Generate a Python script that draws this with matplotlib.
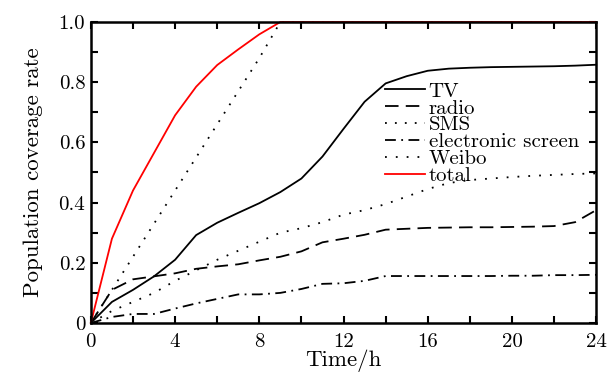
import matplotlib
matplotlib.use("Agg")
import matplotlib.pyplot as plt
from matplotlib.ticker import FixedLocator, FuncFormatter

plt.rcParams['font.family'] = ['cmr10', 'DejaVu Serif']
plt.rcParams['axes.formatter.use_mathtext'] = True
plt.rcParams['mathtext.fontset'] = 'cm'

hours = list(range(25))
tv = [0, 0.07, 0.11, 0.155, 0.21, 0.292, 0.333, 0.366, 0.398, 0.435, 0.48, 0.553, 0.645,
      0.735, 0.796, 0.82, 0.838, 0.845, 0.848, 0.85, 0.851, 0.852, 0.853, 0.855, 0.858]
radio = [0, 0.11, 0.145, 0.155, 0.165, 0.18, 0.188, 0.195, 0.208, 0.22, 0.238, 0.268, 0.28,
         0.293, 0.31, 0.313, 0.316, 0.317, 0.318, 0.318, 0.319, 0.32, 0.322, 0.335, 0.375]
sms = [0, 0.11, 0.22, 0.33, 0.44, 0.55, 0.66, 0.77, 0.88, 1.0, 1.0, 1.0, 1.0,
       1.0, 1.0, 1.0, 1.0, 1.0, 1.0, 1.0, 1.0, 1.0, 1.0, 1.0, 1.0]
screen = [0, 0.02, 0.03, 0.03, 0.048, 0.065, 0.08, 0.095, 0.095, 0.1, 0.113, 0.13, 0.132,
          0.14, 0.156, 0.156, 0.156, 0.156, 0.156, 0.156, 0.157, 0.157, 0.159, 0.159, 0.16]
weibo = [0, 0.04, 0.07, 0.1, 0.14, 0.175, 0.21, 0.24, 0.27, 0.3, 0.315, 0.335, 0.36,
         0.375, 0.395, 0.42, 0.445, 0.465, 0.475, 0.48, 0.485, 0.489, 0.492, 0.495, 0.497]
total = [0, 0.28, 0.44, 0.565, 0.69, 0.785, 0.857, 0.909, 0.959, 1.0, 1.0, 1.0, 1.0,
         1.0, 1.0, 1.0, 1.0, 1.0, 1.0, 1.0, 1.0, 1.0, 1.0, 1.0, 1.0]

labels = ["TV", "radio", "SMS", "electronic screen", "Weibo", "total"]

fig = plt.figure(figsize=(6.14, 3.76), dpi=100)
ax = fig.add_axes([0.148, 0.141, 0.823, 0.8005])

lw = 1.3
ax.plot(hours, tv, color='black', lw=lw, label=labels[0], clip_on=False)
ax.plot(hours, radio, color='black', lw=lw, dashes=(7.5, 4), label=labels[1], clip_on=False)
ax.plot(hours, sms, color='black', lw=lw, dashes=(1, 4.5), label=labels[2], clip_on=False)
ax.plot(hours, screen, color='black', lw=lw, dashes=(6, 3, 1, 3), label=labels[3], clip_on=False)
ax.plot(hours, weibo, color='black', lw=lw, dashes=(1, 5), label=labels[4], clip_on=False)
ax.plot(hours, total, color='red', lw=lw, label=labels[5], clip_on=False)

ax.set_xlim(0, 24)
ax.set_ylim(0, 1.0)
ax.xaxis.set_major_locator(FixedLocator(list(range(0, 25, 2))))
ax.yaxis.set_major_locator(FixedLocator([i / 10 for i in range(11)]))
ax.xaxis.set_major_formatter(FuncFormatter(lambda v, p: "%d" % round(v) if round(v) % 4 == 0 else ""))

def yfmt(v, p):
    k = round(v * 10)
    if k == 0:
        return "0"
    if k % 2 == 0:
        return "%.1f" % v
    return ""
ax.yaxis.set_major_formatter(FuncFormatter(yfmt))

ax.tick_params(direction='in', length=5, width=1.5, top=True, right=True,
               labelsize=15)
ax.tick_params(axis='x', pad=7)
ax.tick_params(axis='y', pad=4)
for s in ax.spines.values():
    s.set_linewidth(1.8)

ax.set_xlabel("Time/h", fontsize=16.5, labelpad=-1)
ax.set_ylabel("Population coverage rate", fontsize=16.5, labelpad=11)

leg = ax.legend(loc='upper left', bbox_to_anchor=(0.561, 0.835), frameon=False,
                fontsize=15, handlelength=1.95, handletextpad=0.15, labelspacing=-0.08,
                borderpad=0.0)

fig.savefig("out.png", dpi=100)
